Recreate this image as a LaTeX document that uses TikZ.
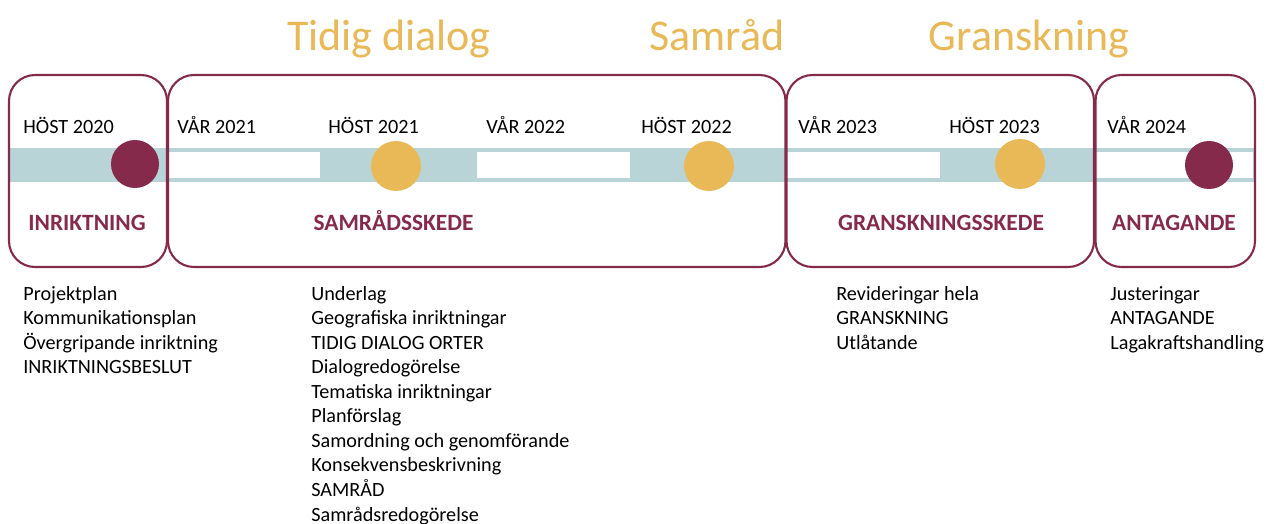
\documentclass[tikz,border=0pt]{standalone}
\usepackage{fontspec}
\setmainfont{Carlito}
\definecolor{vinrod}{HTML}{862A4B}
\definecolor{guld}{HTML}{E9B857}
\definecolor{blagron}{HTML}{B8D4D7}
\tikzset{
  fasruta/.style={draw=vinrod,line width=1.2pt,rounded corners=0.52cm},
  datum/.style={anchor=base west,inner sep=0pt,font=\fontsize{11.5}{14}\selectfont},
  fas/.style={anchor=base,inner sep=0pt,text=vinrod,font=\fontsize{13.3}{16}\selectfont\bfseries},
  rubrik/.style={anchor=base,inner sep=0pt,text=guld,font=\fontsize{25}{30}\selectfont},
  punkt/.style={circle,inner sep=0pt,minimum size=#1},
  rad/.style={anchor=base west,inner sep=0pt,font=\fontsize{11.5}{14}\selectfont}
}
\begin{document}
\begin{tikzpicture}[x=0.02cm,y=-0.02cm]
\useasboundingbox (0,0) rectangle (1268,524);
%Headings above the phases
    \node[rubrik] (tidig) at (389,51) {Tidig dialog};
    \node[rubrik] (samrad) at (717,51) {Samråd};
    \node[rubrik] (gransk) at (1029,51) {Granskning};
%Draw the time band with its white gaps
    \fill[blagron] (9,148) rectangle (1255,182);
    \foreach \a/\b in {168/320,477/630,787/940,1096/1253}
        \fill[white] (\a,152) rectangle (\b,177.5);
%Draws the 4 phase boxes
    \foreach \a/\b in {9/167,168/785.5,786.5/1094,1095.5/1255}
        {
        \draw[fasruta] (\a,75) rectangle (\b,267);
    }
    \node[punkt=0.96cm,fill=vinrod] (beslut) at (135,164) {};
    \node[punkt=1cm,fill=guld] (dialog) at (396,166) {};
    \node[punkt=1cm,fill=guld] (samradpunkt) at (709,166) {};
    \node[punkt=1cm,fill=guld] (granskpunkt) at (1020,164) {};
    \node[punkt=0.96cm,fill=vinrod] (antagen) at (1209,165) {};
%Dates above the band
    \foreach \x/\txt/\namn in {23/HÖST 2020/h20,177/VÅR 2021/v21,328/HÖST 2021/h21,486/VÅR 2022/v22,641/HÖST 2022/h22,798/VÅR 2023/v23,949/HÖST 2023/h23,1107/VÅR 2024/v24}
        \node[datum] (\namn) at (\x,133) {\txt};
    \node[fas] (inriktning) at (87,230.5) {INRIKTNING};
    \node[fas] (samradsskede) at (393.5,230.5) {SAMRÅDSSKEDE};
    \node[fas] (granskningsskede) at (941,230.5) {GRANSKNINGSSKEDE};
    \node[fas] (antagande) at (1174,230.5) {ANTAGANDE};
%Lists under each phase
    \foreach \txt [count=\i from 0] in {Projektplan,Kommunikationsplan,Övergripande inriktning,INRIKTNINGSBESLUT}
        \node[rad] (lista1-\i) at (23,300+24.56*\i) {\txt};
    \foreach \txt [count=\i from 0] in {Underlag,Geografiska inriktningar,TIDIG DIALOG ORTER,Dialogredogörelse,Tematiska inriktningar,Planförslag,Samordning och genomförande,Konsekvensbeskrivning,SAMRÅD,Samrådsredogörelse}
        \node[rad] (lista2-\i) at (311,300+24.56*\i) {\txt};
    \foreach \txt [count=\i from 0] in {Revideringar hela,GRANSKNING,Utlåtande}
        \node[rad] (lista3-\i) at (836,300+24.56*\i) {\txt};
    \foreach \txt [count=\i from 0] in {Justeringar,ANTAGANDE,Lagakraftshandling}
        \node[rad] (lista4-\i) at (1110,300+24.56*\i) {\txt};
\end{tikzpicture}
\end{document}
